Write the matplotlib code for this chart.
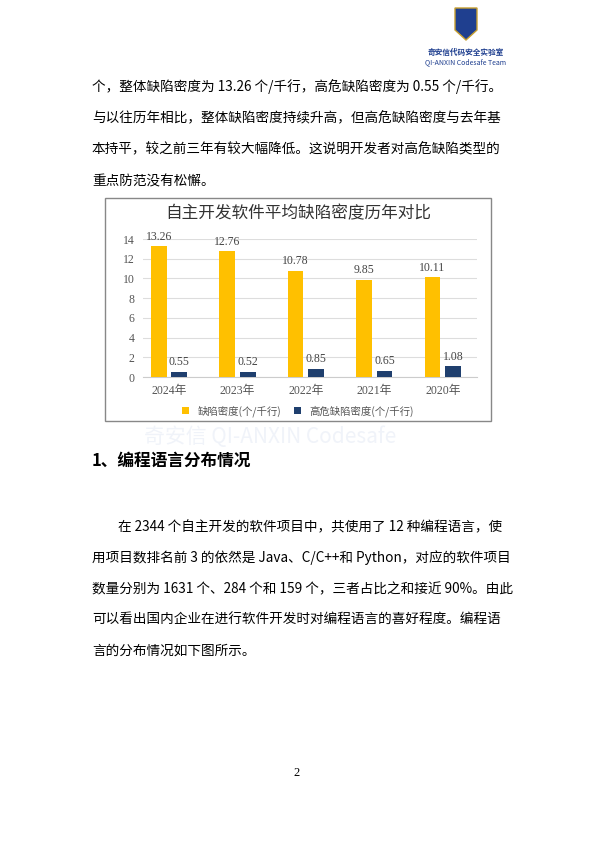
import matplotlib
matplotlib.use("Agg")
import matplotlib.pyplot as plt
from matplotlib.patches import Rectangle, Polygon
import numpy as np

plt.rcParams['font.family'] = ['Noto Sans CJK SC', 'DejaVu Sans']

years = ["2024年", "2023年", "2022年", "2021年", "2020年"]
density = [13.26, 12.76, 10.78, 9.85, 10.11]
high_density = [0.55, 0.52, 0.85, 0.65, 1.08]
yticks = [0, 2, 4, 6, 8, 10, 12, 14]

W, H = 595, 841
fig = plt.figure(figsize=(W/100, H/100), dpi=100)

def T(x, y, s, **kw):
    fig.text(x/W, 1-y/H, s, **kw)

# logo
shield = Polygon([(455/W, 1-8/H), (477/W, 1-8/H), (477/W, 1-30/H), (466/W, 1-40/H), (455/W, 1-30/H)],
                 closed=True, facecolor='#1f3f8f', edgecolor='#c8a030', lw=1, transform=fig.transFigure)
fig.patches.append(shield)
T(466, 52, "奇安信代码安全实验室", fontsize=5.5, color='#1f3f8f', ha='center', va='center', weight='bold')
T(466, 62, "QI-ANXIN Codesafe Team", fontsize=5, color='#1f3f8f', ha='center', va='center')

# faint watermark
T(270, 437, "奇安信 QI-ANXIN Codesafe", fontsize=15, color='#f0f3f9', ha='center', va='center', zorder=-2)

body = dict(fontsize=9.8, color='black', va='center')
T(92, 87, "个，整体缺陷密度为 13.26 个/千行，高危缺陷密度为 0.55 个/千行。", **body)
T(92, 118, "与以往历年相比，整体缺陷密度持续升高，但高危缺陷密度与去年基", **body)
T(92, 149, "本持平，较之前三年有较大幅降低。这说明开发者对高危缺陷类型的", **body)
T(92, 181, "重点防范没有松懈。", **body)

# chart frame
fig.patches.append(Rectangle((105/W, 1-421/H), 386/W, 223/H, transform=fig.transFigure,
                             facecolor='white', edgecolor='#888888', lw=1, zorder=-1))
T(298, 214, "自主开发软件平均缺陷密度历年对比", fontsize=12, ha='center', va='center', color='#333333')

ax = fig.add_axes([143/W, 1-377/H, 334/W, 138/H])
ax.patch.set_alpha(0)
x = np.arange(len(years))
w = 0.23
off = 0.15
b1 = ax.bar(x - off, density, w, color='#FFC000', label='缺陷密度(个/千行)', zorder=3)
b2 = ax.bar(x + off, high_density, w, color='#1F3F6E', label='高危缺陷密度(个/千行)', zorder=3)
for xi, v in zip(x, density):
    ax.text(xi - off, v + 0.35, f"{v:.2f}", ha='center', va='bottom', fontsize=8.5, color='#444444', family='Liberation Serif')
for xi, v in zip(x, high_density):
    ax.text(xi + off, v + 0.35, f"{v:.2f}", ha='center', va='bottom', fontsize=8.5, color='#444444', family='Liberation Serif')
ax.set_ylim(0, 14)
ax.set_xlim(-0.38, 4.5)
ax.set_yticks(yticks)
ax.set_yticklabels([str(t) for t in yticks], fontsize=8.5, color='#555555', family='Liberation Serif')
ax.set_xticks(x)
ax.set_xticklabels(years, fontsize=8.5, color='#555555', family=['Liberation Serif', 'Noto Sans CJK SC'])
ax.grid(axis='y', color='#dddddd', lw=0.8, zorder=0)
for s in ['top', 'right', 'left']:
    ax.spines[s].set_visible(False)
ax.spines['bottom'].set_color('#cccccc')
ax.tick_params(length=0, pad=6)
fig.legend(handles=[b1, b2], loc='center', bbox_to_anchor=(298/W, 1-411/H), ncol=2, frameon=False,
           fontsize=7.5, handlelength=0.7, handleheight=0.7, columnspacing=1.2, labelcolor='#555555')

T(92, 461, "1、编程语言分布情况", fontsize=12, weight='bold', va='center')
T(118, 527, "在 2344 个自主开发的软件项目中，共使用了 12 种编程语言，使", **body)
T(92, 558, "用项目数排名前 3 的依然是 Java、C/C++和 Python，对应的软件项目", **body)
T(92, 589, "数量分别为 1631 个、284 个和 159 个，三者占比之和接近 90%。由此", **body)
T(92, 620, "可以看出国内企业在进行软件开发时对编程语言的喜好程度。编程语", **body)
T(92, 651, "言的分布情况如下图所示。", **body)
T(297, 773, "2", fontsize=9, ha='center', va='center', family='Liberation Serif')

fig.savefig("out.png", dpi=100)
